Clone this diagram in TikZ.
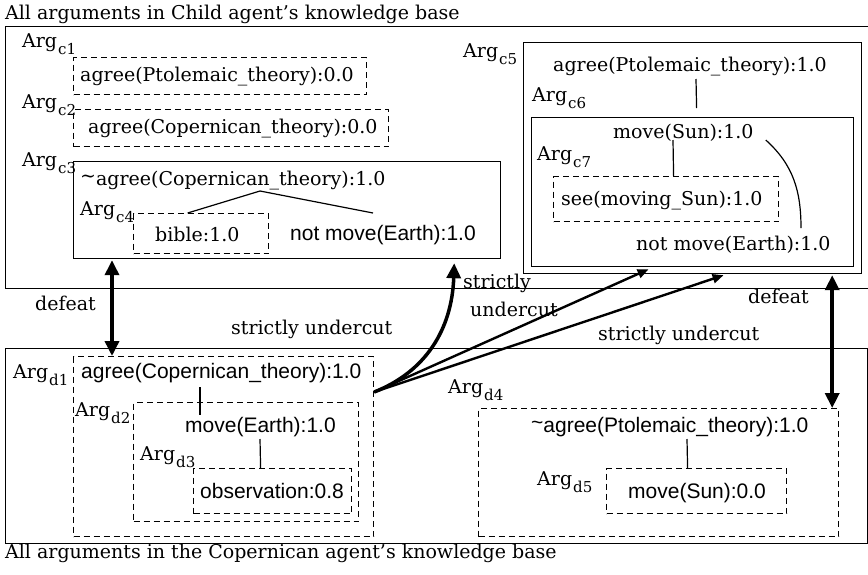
\documentclass[tikz,border=0pt]{standalone}
\usepackage{fontspec}
\setmainfont{DejaVu Serif}
\newfontfamily\sansf{Liberation Sans}
\usetikzlibrary{arrows.meta}

% "Arg" with a lowered index
\newcommand\argname[1]{Arg\kern1pt\raisebox{-7pt}{\fontsize{15}{15}\selectfont #1}}

\tikzset{
  sbox/.style={draw, line width=1.2pt, inner sep=0pt, anchor=north west},
  dbox/.style={sbox, dash pattern=on 6pt off 4pt},
  frame/.style={draw, line width=1pt, inner sep=0pt, anchor=north west},
  rmtxt/.style={font=\fontsize{19}{22}\selectfont, inner sep=0pt, anchor=base west},
  sftxt/.style={font=\sansf\fontsize{21}{23}\selectfont, inner sep=0pt, anchor=base west},
  link/.style={line width=1.2pt},
  defeatarrow/.style={line width=3.5pt,
    {Triangle[length=15pt,width=14pt]}-{Triangle[length=15pt,width=14pt]}},
  heavyarrow/.style={line width=3.5pt, -{Triangle[length=15pt,width=14pt]}},
  thinarrow/.style={line width=2.4pt, -{Triangle[length=11pt,width=9pt]}},
}

\begin{document}
\begin{tikzpicture}[x=1pt,y=-1pt]
\useasboundingbox (0,0) rectangle (868,574);

% knowledge bases
\node[frame, minimum width=866pt, minimum height=262pt] (childkb) at (5,26) {};
\node[frame, minimum width=862pt, minimum height=195pt] (copkb) at (5,348) {};
\node[rmtxt] (childtitle) at (5,19) {All arguments in Child agent's knowledge base};
\node[rmtxt] (coptitle) at (5,558) {All arguments in the Copernican agent's knowledge base};

% ---- Child agent ----
\node[dbox, minimum width=293pt, minimum height=37pt] (c1) at (73,57) {};
\node[rmtxt] (c1lab) at (22,47) {\argname{c1}};
\node[rmtxt] (c1t) at (80,81) {agree(Ptolemaic\_theory):0.0};

\node[dbox, minimum width=315pt, minimum height=37pt] (c2) at (73,109) {};
\node[rmtxt] (c2lab) at (22,108) {\argname{c2}};
\node[rmtxt] (c2t) at (88,133) {agree(Copernican\_theory):0.0};

\node[sbox, minimum width=427pt, minimum height=97pt] (c3) at (73,161) {};
\node[rmtxt] (c3lab) at (22,166) {\argname{c3}};
\node[rmtxt] (c3t) at (80,185) {\raisebox{3pt}{\char`\~}agree(Copernican\_theory):1.0};
\node[dbox, minimum width=135pt, minimum height=40pt] (c4) at (133,213) {};
\node[rmtxt] (c4lab) at (80,215) {\argname{c4}};
\node[rmtxt] (c4t) at (155,241) {bible:1.0};
\node[sftxt] (c3n) at (290,240) {not move(Earth):1.0};
\coordinate (c3apex) at ([xshift=180pt,yshift=-6pt]c3t.base west);
\draw[link] (c3apex) -- ([xshift=-13.5pt]c4.north);
\draw[link] (c3apex) -- ([xshift=83pt,yshift=27pt]c3n.base west);

\node[sbox, minimum width=338pt, minimum height=231pt] (c5) at (523,42) {};
\node[rmtxt] (c5lab) at (463,57) {\argname{c5}};
\node[rmtxt] (c5t) at (553,71) {agree(Ptolemaic\_theory):1.0};
\node[sbox, minimum width=322pt, minimum height=149pt] (c6) at (531,117) {};
\node[rmtxt] (c6lab) at (532,101) {\argname{c6}};
\node[rmtxt] (c6t) at (613,138) {move(Sun):1.0};
\node[dbox, minimum width=225pt, minimum height=45pt] (c7) at (553,176) {};
\node[rmtxt] (c7lab) at (537,160) {\argname{c7}};
\node[rmtxt] (c7t) at (561,205) {see(moving\_Sun):1.0};
\node[rmtxt] (c6n) at (636,250) {not move(Earth):1.0};
\draw[link] ([xshift=143pt,yshift=-8pt]c5t.base west) -- ([xshift=4pt,yshift=9pt]c6.north);
\draw[link] ([xshift=60pt,yshift=-2pt]c6t.base west) -- ([xshift=7.5pt]c7.north);
\draw[link] ([xshift=12pt,yshift=-2pt]c6t.base east)
  to[out=-42,in=90] ([xshift=165pt,yshift=22pt]c6n.base west);

% ---- Copernican agent ----
\node[dbox, minimum width=300pt, minimum height=180pt] (d1) at (73,356) {};
\node[rmtxt] (d1lab) at (13,378) {\argname{d1}};
\node[sftxt] (d1t) at (81,378) {agree(Copernican\_theory):1.0};
\node[dbox, minimum width=225pt, minimum height=119pt] (d2) at (133,402) {};
\node[rmtxt] (d2lab) at (75,416) {\argname{d2}};
\node[sftxt] (d2t) at (185,432) {move(Earth):1.0};
\node[dbox, minimum width=158pt, minimum height=45pt] (d3) at (193,468) {};
\node[rmtxt] (d3lab) at (140,460) {\argname{d3}};
\node[sftxt] (d3t) at (200,498) {observation:0.8};
\draw[link] ([xshift=119pt,yshift=-9pt]d1t.base west) -- ([xshift=15pt,yshift=17pt]d2t.base west);
\draw[link] ([xshift=75pt,yshift=-7pt]d2t.base west) -- ([xshift=-12pt]d3.north);

\node[dbox, minimum width=360pt, minimum height=128pt] (d4) at (478,408) {};
\node[rmtxt] (d4lab) at (448,393) {\argname{d4}};
\node[sftxt] (d4t) at (531,432) {\raisebox{3pt}{\char`\~}agree(Ptolemaic\_theory):1.0};
\node[dbox, minimum width=180pt, minimum height=45pt] (d5) at (606,468) {};
\node[rmtxt] (d5lab) at (537,485) {\argname{d5}};
\node[sftxt] (d5t) at (628,498) {move(Sun):0.0};
\draw[link] ([xshift=156pt,yshift=-7pt]d4t.base west) -- ([xshift=-9pt]d5.north);

% ---- attacks ----
\draw[defeatarrow] ([xshift=39pt,yshift=-1pt]c3.south west) -- ([xshift=39pt]d1.north west);
\node[rmtxt] (defl) at (35,310) {defeat};
\draw[defeatarrow] ([xshift=-30pt,yshift=-1pt]c5.south east) -- ([xshift=-7pt]d4.north east);
\node[rmtxt] (defr) at (748,303) {defeat};

\coordinate (src) at ([yshift=-36pt]d1.north east);
\draw[heavyarrow] (src) .. controls (425,372) and (452,330) .. ([xshift=-47pt,yshift=-4pt]c3.south east);
\draw[thinarrow] (src) -- ([xshift=-44pt,yshift=-2pt]c6.south);
\draw[thinarrow] (src) -- ([xshift=31pt,yshift=-1pt]c5.south);
\node[rmtxt] (su1) at (231,334) {strictly undercut};
\node[rmtxt] (su2a) at (463,288) {strictly};
\node[rmtxt] (su2b) at (470,316) {undercut};
\node[rmtxt] (su3) at (598,340) {strictly undercut};
\end{tikzpicture}
\end{document}
